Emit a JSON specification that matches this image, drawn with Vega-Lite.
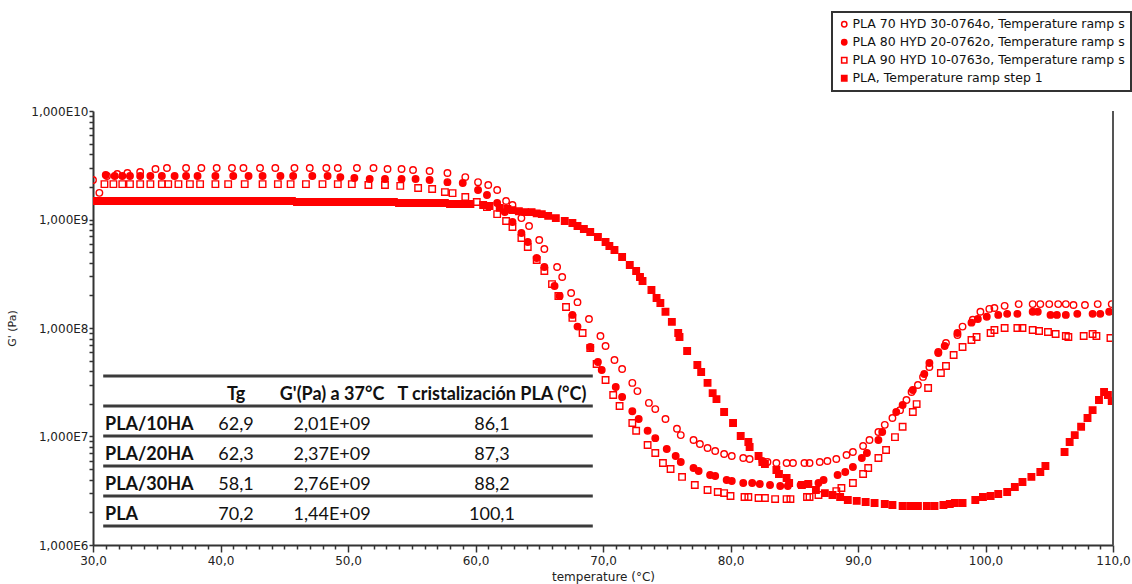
{
  "$schema": "https://vega.github.io/schema/vega-lite/v6.json",
  "width": 1020,
  "height": 434,
  "autosize": {"type": "none"},
  "padding": {"left": 93, "top": 111, "right": 19, "bottom": 39},
  "background": "white",
  "config": {"view": {"stroke": null}, "font": "DejaVu Sans", "axis": {"labelOverlap": false}},
  "datasets": {
    "series": [
      {"s": "A", "name": "PLA 70 HYD 30-0764o, Temperature ramp step 1"},
      {"s": "B", "name": "PLA 80 HYD 20-0762o, Temperature ramp step 1"},
      {"s": "C", "name": "PLA 90 HYD 10-0763o, Temperature ramp step 1"},
      {"s": "D", "name": "PLA, Temperature ramp step 1"}
    ],
    "table": [
      {"row": "h", "a": "", "Tg": "Tg", "G37": "G'(Pa) a 37°C", "Tc": "T cristalización PLA (°C)"},
      {"row": "PLA/10HA", "a": "PLA/10HA", "Tg": "62,9", "G37": "2,01E+09", "Tc": "86,1"},
      {"row": "PLA/20HA", "a": "PLA/20HA", "Tg": "62,3", "G37": "2,37E+09", "Tc": "87,3"},
      {"row": "PLA/30HA", "a": "PLA/30HA", "Tg": "58,1", "G37": "2,76E+09", "Tc": "88,2"},
      {"row": "PLA", "a": "PLA", "Tg": "70,2", "G37": "1,44E+09", "Tc": "100,1"}
    ],
    "pts": [
      {"s":"D","T":30.0,"G":1.48e9},{"s":"D","T":30.4,"G":1.48e9},{"s":"D","T":30.8,"G":1.48e9},{"s":"D","T":31.2,"G":1.48e9},{"s":"D","T":31.6,"G":1.48e9},{"s":"D","T":32.0,"G":1.48e9},{"s":"D","T":32.4,"G":1.48e9},{"s":"D","T":32.8,"G":1.48e9},{"s":"D","T":33.2,"G":1.48e9},{"s":"D","T":33.6,"G":1.48e9},{"s":"D","T":34.0,"G":1.48e9},{"s":"D","T":34.4,"G":1.48e9},{"s":"D","T":34.8,"G":1.48e9},{"s":"D","T":35.2,"G":1.48e9},{"s":"D","T":35.6,"G":1.48e9},{"s":"D","T":36.0,"G":1.48e9},{"s":"D","T":36.4,"G":1.48e9},{"s":"D","T":36.8,"G":1.48e9},{"s":"D","T":37.2,"G":1.48e9},{"s":"D","T":37.6,"G":1.48e9},{"s":"D","T":38.0,"G":1.48e9},{"s":"D","T":38.4,"G":1.48e9},{"s":"D","T":38.8,"G":1.48e9},{"s":"D","T":39.2,"G":1.48e9},{"s":"D","T":39.6,"G":1.48e9},{"s":"D","T":40.0,"G":1.48e9},{"s":"D","T":40.4,"G":1.48e9},{"s":"D","T":40.8,"G":1.48e9},{"s":"D","T":41.2,"G":1.48e9},{"s":"D","T":41.6,"G":1.48e9},{"s":"D","T":42.0,"G":1.48e9},{"s":"D","T":42.4,"G":1.48e9},{"s":"D","T":42.8,"G":1.48e9},{"s":"D","T":43.2,"G":1.48e9},{"s":"D","T":43.6,"G":1.48e9},{"s":"D","T":44.0,"G":1.48e9},{"s":"D","T":44.4,"G":1.48e9},{"s":"D","T":44.8,"G":1.48e9},{"s":"D","T":45.2,"G":1.48e9},{"s":"D","T":45.6,"G":1.48e9},
      {"s":"D","T":46.0,"G":1.45e9},{"s":"D","T":46.4,"G":1.45e9},{"s":"D","T":46.8,"G":1.45e9},{"s":"D","T":47.2,"G":1.45e9},{"s":"D","T":47.6,"G":1.45e9},{"s":"D","T":48.0,"G":1.45e9},{"s":"D","T":48.4,"G":1.45e9},{"s":"D","T":48.8,"G":1.45e9},{"s":"D","T":49.2,"G":1.45e9},{"s":"D","T":49.6,"G":1.45e9},{"s":"D","T":50.0,"G":1.45e9},{"s":"D","T":50.4,"G":1.45e9},{"s":"D","T":50.8,"G":1.45e9},{"s":"D","T":51.2,"G":1.45e9},{"s":"D","T":51.6,"G":1.45e9},{"s":"D","T":52.0,"G":1.45e9},{"s":"D","T":52.4,"G":1.45e9},{"s":"D","T":52.8,"G":1.45e9},{"s":"D","T":53.2,"G":1.45e9},{"s":"D","T":53.6,"G":1.45e9},
      {"s":"D","T":54.0,"G":1.42e9},{"s":"D","T":54.4,"G":1.42e9},{"s":"D","T":54.8,"G":1.42e9},{"s":"D","T":55.2,"G":1.42e9},{"s":"D","T":55.6,"G":1.42e9},{"s":"D","T":56.0,"G":1.42e9},{"s":"D","T":56.4,"G":1.42e9},{"s":"D","T":56.8,"G":1.42e9},{"s":"D","T":57.2,"G":1.42e9},{"s":"D","T":57.6,"G":1.42e9},
      {"s":"D","T":58.0,"G":1.39e9},{"s":"D","T":58.4,"G":1.39e9},{"s":"D","T":58.8,"G":1.39e9},{"s":"D","T":59.2,"G":1.39e9},{"s":"D","T":59.6,"G":1.39e9},
      {"s":"D","T":60.6,"G":1.36e9},{"s":"D","T":61.1,"G":1.33e9},{"s":"D","T":61.9,"G":1.28e9},{"s":"D","T":62.5,"G":1.25e9},{"s":"D","T":62.9,"G":1.22e9},{"s":"D","T":63.4,"G":1.19e9},{"s":"D","T":63.9,"G":1.17e9},{"s":"D","T":64.4,"G":1.17e9},{"s":"D","T":64.8,"G":1.14e9},{"s":"D","T":65.2,"G":1.12e9},{"s":"D","T":65.7,"G":1.08e9},{"s":"D","T":66.3,"G":1.03e9},{"s":"D","T":67.0,"G":9.68e8},{"s":"D","T":67.6,"G":9.28e8},{"s":"D","T":68.0,"G":8.71e8},{"s":"D","T":68.5,"G":8.18e8},{"s":"D","T":69.0,"G":7.67e8},{"s":"D","T":69.6,"G":6.90e8},{"s":"D","T":70.2,"G":6.20e8},{"s":"D","T":70.5,"G":5.70e8},{"s":"D","T":70.9,"G":5.24e8},{"s":"D","T":71.5,"G":4.51e8},{"s":"D","T":72.1,"G":3.81e8},{"s":"D","T":72.6,"G":3.35e8},{"s":"D","T":72.9,"G":2.95e8},{"s":"D","T":73.1,"G":2.71e8},{"s":"D","T":73.8,"G":2.24e8},{"s":"D","T":74.2,"G":1.89e8},{"s":"D","T":74.5,"G":1.70e8},{"s":"D","T":74.9,"G":1.41e8},{"s":"D","T":75.4,"G":1.14e8},{"s":"D","T":75.9,"G":9.00e7},{"s":"D","T":76.0,"G":8.26e7},{"s":"D","T":76.6,"G":6.14e7},{"s":"D","T":77.4,"G":4.56e7},{"s":"D","T":77.7,"G":3.93e7},{"s":"D","T":78.2,"G":3.12e7},{"s":"D","T":78.6,"G":2.51e7},{"s":"D","T":78.9,"G":2.21e7},{"s":"D","T":79.5,"G":1.68e7},{"s":"D","T":80.2,"G":1.33e7},{"s":"D","T":80.8,"G":1.01e7},{"s":"D","T":81.4,"G":8.90e6},{"s":"D","T":81.5,"G":8.00e6},{"s":"D","T":82.2,"G":6.61e6},{"s":"D","T":82.5,"G":5.82e6},{"s":"D","T":82.7,"G":5.58e6},{"s":"D","T":83.6,"G":4.91e6},{"s":"D","T":83.8,"G":4.51e6},{"s":"D","T":84.4,"G":4.15e6},{"s":"D","T":84.6,"G":3.73e6},{"s":"D","T":85.6,"G":3.57e6},{"s":"D","T":86.1,"G":3.65e6},{"s":"D","T":86.7,"G":3.21e6},{"s":"D","T":87.4,"G":3.01e6},{"s":"D","T":88.0,"G":2.89e6},{"s":"D","T":88.6,"G":2.77e6},{"s":"D","T":89.2,"G":2.60e6},{"s":"D","T":89.9,"G":2.55e6},{"s":"D","T":90.6,"G":2.49e6},{"s":"D","T":91.3,"G":2.44e6},{"s":"D","T":92.1,"G":2.39e6},{"s":"D","T":92.7,"G":2.34e6},{"s":"D","T":93.5,"G":2.29e6},{"s":"D","T":94.1,"G":2.29e6},{"s":"D","T":94.7,"G":2.29e6},{"s":"D","T":95.4,"G":2.29e6},{"s":"D","T":96.0,"G":2.29e6},{"s":"D","T":96.7,"G":2.34e6},{"s":"D","T":97.2,"G":2.39e6},{"s":"D","T":97.6,"G":2.44e6},{"s":"D","T":98.2,"G":2.44e6},{"s":"D","T":99.2,"G":2.60e6},{"s":"D","T":99.8,"G":2.77e6},{"s":"D","T":100.4,"G":2.83e6},{"s":"D","T":101.0,"G":2.95e6},{"s":"D","T":101.7,"G":3.08e6},{"s":"D","T":102.3,"G":3.42e6},{"s":"D","T":102.9,"G":3.81e6},{"s":"D","T":103.6,"G":4.24e6},{"s":"D","T":104.3,"G":4.71e6},{"s":"D","T":104.7,"G":5.35e6},{"s":"D","T":106.2,"G":7.20e6},{"s":"D","T":106.6,"G":8.90e6},{"s":"D","T":107.0,"G":1.03e7},{"s":"D","T":107.5,"G":1.23e7},{"s":"D","T":108.0,"G":1.48e7},{"s":"D","T":108.4,"G":1.75e7},{"s":"D","T":108.9,"G":2.17e7},{"s":"D","T":109.3,"G":2.57e7},{"s":"D","T":109.6,"G":2.41e7},{"s":"D","T":109.9,"G":2.12e7},

      {"s":"C","T":30.9,"G":2.12e9},{"s":"C","T":31.6,"G":2.12e9},{"s":"C","T":32.3,"G":2.12e9},{"s":"C","T":32.9,"G":2.12e9},{"s":"C","T":33.7,"G":2.12e9},{"s":"C","T":34.5,"G":2.12e9},{"s":"C","T":35.4,"G":2.12e9},{"s":"C","T":35.9,"G":2.12e9},{"s":"C","T":36.7,"G":2.12e9},{"s":"C","T":37.6,"G":2.12e9},{"s":"C","T":38.4,"G":2.12e9},{"s":"C","T":39.6,"G":2.12e9},{"s":"C","T":40.6,"G":2.12e9},{"s":"C","T":41.9,"G":2.12e9},{"s":"C","T":43.3,"G":2.12e9},{"s":"C","T":44.5,"G":2.12e9},{"s":"C","T":45.5,"G":2.12e9},{"s":"C","T":46.7,"G":2.12e9},{"s":"C","T":48.0,"G":2.12e9},{"s":"C","T":49.2,"G":2.12e9},{"s":"C","T":50.3,"G":2.12e9},{"s":"C","T":51.6,"G":2.08e9},{"s":"C","T":52.9,"G":2.08e9},{"s":"C","T":54.1,"G":2.04e9},{"s":"C","T":55.5,"G":1.95e9},{"s":"C","T":56.6,"G":1.91e9},{"s":"C","T":57.6,"G":1.79e9},{"s":"C","T":58.2,"G":1.75e9},{"s":"C","T":59.2,"G":1.61e9},{"s":"C","T":60.1,"G":1.45e9},{"s":"C","T":60.9,"G":1.30e9},{"s":"C","T":61.7,"G":1.12e9},{"s":"C","T":62.4,"G":9.68e8},{"s":"C","T":62.9,"G":8.53e8},{"s":"C","T":63.6,"G":6.76e8},{"s":"C","T":64.1,"G":5.58e8},{"s":"C","T":64.8,"G":4.23e8},{"s":"C","T":65.4,"G":3.35e8},{"s":"C","T":66.0,"G":2.54e8},{"s":"C","T":66.5,"G":1.97e8},{"s":"C","T":67.1,"G":1.56e8},{"s":"C","T":67.6,"G":1.24e8},{"s":"C","T":68.4,"G":9.00e7},{"s":"C","T":69.0,"G":6.54e7},{"s":"C","T":69.5,"G":4.66e7},{"s":"C","T":70.2,"G":3.32e7},{"s":"C","T":70.8,"G":2.41e7},{"s":"C","T":71.3,"G":1.91e7},{"s":"C","T":72.3,"G":1.33e7},{"s":"C","T":72.6,"G":1.13e7},{"s":"C","T":73.5,"G":8.35e6},{"s":"C","T":74.1,"G":7.05e6},{"s":"C","T":74.7,"G":5.70e6},{"s":"C","T":75.3,"G":5.02e6},{"s":"C","T":76.2,"G":4.24e6},{"s":"C","T":77.2,"G":3.57e6},{"s":"C","T":78.2,"G":3.21e6},{"s":"C","T":79.0,"G":3.08e6},{"s":"C","T":79.5,"G":3.01e6},{"s":"C","T":80.0,"G":2.83e6},{"s":"C","T":81.1,"G":2.77e6},{"s":"C","T":81.4,"G":2.77e6},{"s":"C","T":82.2,"G":2.71e6},{"s":"C","T":82.7,"G":2.71e6},{"s":"C","T":83.5,"G":2.65e6},{"s":"C","T":84.4,"G":2.65e6},{"s":"C","T":84.7,"G":2.65e6},{"s":"C","T":86.0,"G":2.77e6},{"s":"C","T":86.2,"G":2.77e6},{"s":"C","T":86.9,"G":2.89e6},{"s":"C","T":88.3,"G":3.14e6},{"s":"C","T":88.7,"G":3.35e6},{"s":"C","T":89.6,"G":3.73e6},{"s":"C","T":90.4,"G":4.51e6},{"s":"C","T":90.8,"G":5.12e6},{"s":"C","T":91.6,"G":6.33e6},{"s":"C","T":92.2,"G":7.51e6},{"s":"C","T":92.9,"G":9.87e6},{"s":"C","T":93.5,"G":1.23e7},{"s":"C","T":94.3,"G":1.68e7},{"s":"C","T":94.6,"G":1.99e7},{"s":"C","T":95.5,"G":2.80e7},{"s":"C","T":96.5,"G":3.85e7},{"s":"C","T":96.9,"G":4.46e7},{"s":"C","T":97.5,"G":5.64e7},{"s":"C","T":98.2,"G":6.68e7},{"s":"C","T":98.9,"G":7.75e7},{"s":"C","T":99.3,"G":8.26e7},{"s":"C","T":100.4,"G":9.00e7},{"s":"C","T":100.7,"G":9.59e7},{"s":"C","T":101.5,"G":1.00e8},{"s":"C","T":102.5,"G":1.00e8},{"s":"C","T":102.9,"G":1.00e8},{"s":"C","T":103.7,"G":9.59e7},{"s":"C","T":104.2,"G":9.39e7},{"s":"C","T":104.9,"G":9.19e7},{"s":"C","T":105.5,"G":8.81e7},{"s":"C","T":106.3,"G":8.44e7},{"s":"C","T":106.5,"G":8.26e7},{"s":"C","T":107.7,"G":8.44e7},{"s":"C","T":108.4,"G":8.81e7},{"s":"C","T":108.7,"G":8.44e7},{"s":"C","T":109.8,"G":8.09e7},

      {"s":"B","T":31.0,"G":2.57e9},{"s":"B","T":31.7,"G":2.52e9},{"s":"B","T":32.3,"G":2.52e9},{"s":"B","T":32.9,"G":2.52e9},{"s":"B","T":33.7,"G":2.52e9},{"s":"B","T":34.5,"G":2.52e9},{"s":"B","T":35.4,"G":2.52e9},{"s":"B","T":36.4,"G":2.52e9},{"s":"B","T":37.3,"G":2.52e9},{"s":"B","T":38.2,"G":2.52e9},{"s":"B","T":39.6,"G":2.52e9},{"s":"B","T":41.0,"G":2.52e9},{"s":"B","T":42.2,"G":2.52e9},{"s":"B","T":43.3,"G":2.52e9},{"s":"B","T":44.7,"G":2.52e9},{"s":"B","T":45.7,"G":2.52e9},{"s":"B","T":47.2,"G":2.52e9},{"s":"B","T":48.4,"G":2.52e9},{"s":"B","T":49.4,"G":2.46e9},{"s":"B","T":50.5,"G":2.41e9},{"s":"B","T":51.7,"G":2.36e9},{"s":"B","T":52.9,"G":2.36e9},{"s":"B","T":54.2,"G":2.36e9},{"s":"B","T":55.3,"G":2.36e9},{"s":"B","T":56.4,"G":2.31e9},{"s":"B","T":57.8,"G":2.21e9},{"s":"B","T":59.0,"G":2.17e9},{"s":"B","T":60.2,"G":1.87e9},{"s":"B","T":60.9,"G":1.68e9},{"s":"B","T":61.7,"G":1.42e9},{"s":"B","T":62.3,"G":1.17e9},{"s":"B","T":62.9,"G":9.48e8},{"s":"B","T":63.6,"G":7.51e8},{"s":"B","T":64.1,"G":6.20e8},{"s":"B","T":64.8,"G":4.42e8},{"s":"B","T":65.4,"G":3.65e8},{"s":"B","T":66.2,"G":2.44e8},{"s":"B","T":66.6,"G":1.97e8},{"s":"B","T":67.6,"G":1.32e8},{"s":"B","T":68.0,"G":1.03e8},{"s":"B","T":69.0,"G":6.68e7},{"s":"B","T":69.6,"G":4.86e7},{"s":"B","T":69.9,"G":4.10e7},{"s":"B","T":71.0,"G":2.86e7},{"s":"B","T":71.5,"G":2.31e7},{"s":"B","T":72.3,"G":1.71e7},{"s":"B","T":72.8,"G":1.45e7},{"s":"B","T":73.5,"G":1.13e7},{"s":"B","T":74.1,"G":9.66e6},{"s":"B","T":75.0,"G":7.67e6},{"s":"B","T":75.7,"G":6.61e6},{"s":"B","T":76.1,"G":5.82e6},{"s":"B","T":77.1,"G":5.12e6},{"s":"B","T":77.5,"G":4.81e6},{"s":"B","T":78.4,"G":4.42e6},{"s":"B","T":78.8,"G":4.33e6},{"s":"B","T":79.7,"G":3.97e6},{"s":"B","T":80.1,"G":3.89e6},{"s":"B","T":81.0,"G":3.73e6},{"s":"B","T":81.7,"G":3.73e6},{"s":"B","T":82.3,"G":3.65e6},{"s":"B","T":83.1,"G":3.57e6},{"s":"B","T":83.9,"G":3.50e6},{"s":"B","T":84.5,"G":3.50e6},{"s":"B","T":85.5,"G":3.57e6},{"s":"B","T":86.1,"G":3.65e6},{"s":"B","T":86.9,"G":3.73e6},{"s":"B","T":87.3,"G":3.97e6},{"s":"B","T":88.4,"G":4.42e6},{"s":"B","T":89.0,"G":4.71e6},{"s":"B","T":89.6,"G":5.23e6},{"s":"B","T":90.3,"G":6.33e6},{"s":"B","T":90.7,"G":7.05e6},{"s":"B","T":91.6,"G":9.29e6},{"s":"B","T":91.9,"G":1.10e7},{"s":"B","T":93.0,"G":1.68e7},{"s":"B","T":93.5,"G":1.95e7},{"s":"B","T":94.3,"G":2.68e7},{"s":"B","T":95.2,"G":3.77e7},{"s":"B","T":95.6,"G":4.76e7},{"s":"B","T":96.3,"G":5.88e7},{"s":"B","T":96.8,"G":6.82e7},{"s":"B","T":97.8,"G":9.00e7},{"s":"B","T":98.9,"G":1.12e8},{"s":"B","T":99.4,"G":1.21e8},{"s":"B","T":100.1,"G":1.27e8},{"s":"B","T":101.0,"G":1.32e8},{"s":"B","T":101.7,"G":1.35e8},{"s":"B","T":102.5,"G":1.35e8},{"s":"B","T":103.7,"G":1.41e8},{"s":"B","T":104.1,"G":1.41e8},{"s":"B","T":105.1,"G":1.32e8},{"s":"B","T":105.6,"G":1.32e8},{"s":"B","T":106.3,"G":1.32e8},{"s":"B","T":107.2,"G":1.35e8},{"s":"B","T":108.4,"G":1.35e8},{"s":"B","T":109.0,"G":1.35e8},{"s":"B","T":109.7,"G":1.41e8},

      {"s":"A","T":30.0,"G":2.31e9},{"s":"A","T":30.5,"G":1.76e9},{"s":"A","T":31.1,"G":2.52e9},{"s":"A","T":31.9,"G":2.63e9},{"s":"A","T":32.7,"G":2.68e9},{"s":"A","T":33.7,"G":2.74e9},{"s":"A","T":34.9,"G":2.92e9},{"s":"A","T":35.8,"G":2.98e9},{"s":"A","T":37.3,"G":2.98e9},{"s":"A","T":38.5,"G":2.98e9},{"s":"A","T":39.7,"G":2.98e9},{"s":"A","T":40.9,"G":2.98e9},{"s":"A","T":41.8,"G":2.98e9},{"s":"A","T":43.1,"G":2.98e9},{"s":"A","T":44.3,"G":2.98e9},{"s":"A","T":45.8,"G":2.98e9},{"s":"A","T":47.0,"G":2.98e9},{"s":"A","T":48.3,"G":2.98e9},{"s":"A","T":49.2,"G":2.98e9},{"s":"A","T":50.7,"G":2.98e9},{"s":"A","T":52.0,"G":2.98e9},{"s":"A","T":53.1,"G":2.92e9},{"s":"A","T":54.2,"G":2.92e9},{"s":"A","T":55.1,"G":2.86e9},{"s":"A","T":56.4,"G":2.80e9},{"s":"A","T":57.8,"G":2.68e9},{"s":"A","T":59.2,"G":2.46e9},{"s":"A","T":60.2,"G":2.21e9},{"s":"A","T":61.0,"G":2.08e9},{"s":"A","T":61.7,"G":1.87e9},{"s":"A","T":62.4,"G":1.48e9},{"s":"A","T":62.9,"G":1.36e9},{"s":"A","T":63.6,"G":1.03e9},{"s":"A","T":64.2,"G":8.71e8},{"s":"A","T":65.0,"G":6.47e8},{"s":"A","T":65.4,"G":5.35e8},{"s":"A","T":66.4,"G":3.65e8},{"s":"A","T":66.8,"G":2.95e8},{"s":"A","T":67.5,"G":2.10e8},{"s":"A","T":68.0,"G":1.73e8},{"s":"A","T":68.9,"G":1.21e8},{"s":"A","T":69.8,"G":8.44e7},{"s":"A","T":70.2,"G":6.82e7},{"s":"A","T":70.9,"G":5.07e7},{"s":"A","T":71.5,"G":4.19e7},{"s":"A","T":72.3,"G":3.12e7},{"s":"A","T":72.7,"G":2.62e7},{"s":"A","T":73.6,"G":2.04e7},{"s":"A","T":74.1,"G":1.79e7},{"s":"A","T":74.9,"G":1.45e7},{"s":"A","T":75.8,"G":1.18e7},{"s":"A","T":76.1,"G":1.03e7},{"s":"A","T":77.1,"G":9.29e6},{"s":"A","T":77.6,"G":8.53e6},{"s":"A","T":78.2,"G":7.83e6},{"s":"A","T":78.8,"G":7.35e6},{"s":"A","T":79.5,"G":6.90e6},{"s":"A","T":80.1,"G":6.61e6},{"s":"A","T":81.0,"G":6.33e6},{"s":"A","T":81.5,"G":6.20e6},{"s":"A","T":82.5,"G":5.94e6},{"s":"A","T":82.9,"G":5.82e6},{"s":"A","T":83.6,"G":5.70e6},{"s":"A","T":84.4,"G":5.70e6},{"s":"A","T":84.9,"G":5.70e6},{"s":"A","T":85.8,"G":5.70e6},{"s":"A","T":86.2,"G":5.70e6},{"s":"A","T":87.0,"G":5.82e6},{"s":"A","T":87.6,"G":5.94e6},{"s":"A","T":88.3,"G":6.20e6},{"s":"A","T":89.1,"G":6.75e6},{"s":"A","T":89.6,"G":7.20e6},{"s":"A","T":90.4,"G":8.17e6},{"s":"A","T":90.9,"G":9.29e6},{"s":"A","T":91.6,"G":1.10e7},{"s":"A","T":92.1,"G":1.28e7},{"s":"A","T":92.7,"G":1.48e7},{"s":"A","T":93.3,"G":1.75e7},{"s":"A","T":93.8,"G":2.17e7},{"s":"A","T":94.2,"G":2.57e7},{"s":"A","T":94.7,"G":2.98e7},{"s":"A","T":95.1,"G":3.54e7},{"s":"A","T":95.6,"G":4.37e7},{"s":"A","T":96.3,"G":6.01e7},{"s":"A","T":96.9,"G":7.27e7},{"s":"A","T":97.8,"G":8.62e7},{"s":"A","T":98.2,"G":1.03e8},{"s":"A","T":99.0,"G":1.19e8},{"s":"A","T":99.6,"G":1.41e8},{"s":"A","T":100.3,"G":1.50e8},{"s":"A","T":100.7,"G":1.53e8},{"s":"A","T":101.5,"G":1.60e8},{"s":"A","T":102.6,"G":1.66e8},{"s":"A","T":103.7,"G":1.66e8},{"s":"A","T":104.3,"G":1.66e8},{"s":"A","T":105.0,"G":1.66e8},{"s":"A","T":105.7,"G":1.66e8},{"s":"A","T":106.3,"G":1.66e8},{"s":"A","T":106.9,"G":1.63e8},{"s":"A","T":107.8,"G":1.63e8},{"s":"A","T":108.8,"G":1.66e8},{"s":"A","T":109.9,"G":1.66e8}
    ]
  },
  "layer": [
    {
      "data": {"name": "pts"},
      "transform": [{"lookup": "s", "from": {"data": {"name": "series"}, "key": "s", "fields": ["name"]}}],
      "mark": {"type": "point", "stroke": "#ff0000", "strokeWidth": 1.4, "size": 42, "opacity": 1, "clip": true},
      "encoding": {
        "x": {
          "field": "T", "type": "quantitative", "title": "temperature (°C)",
          "scale": {"domain": [30, 110], "nice": false, "zero": false},
          "axis": {
            "values": [30,31,32,33,34,35,36,37,38,39,40,41,42,43,44,45,46,47,48,49,50,51,52,53,54,55,56,57,58,59,60,61,62,63,64,65,66,67,68,69,70,71,72,73,74,75,76,77,78,79,80,81,82,83,84,85,86,87,88,89,90,91,92,93,94,95,96,97,98,99,100,101,102,103,104,105,106,107,108,109,110],
            "tickCount": 200,
            "labelExpr": "datum.value % 10 === 0 ? replace(format(datum.value, '.1f'), '.', ',') : ''",
            "tickSize": {"condition": {"test": "datum.value % 10 === 0", "value": 7}, "value": 4},
            "labelPadding": 3, "labelFont": "DejaVu Sans", "labelFontSize": 12, "labelColor": "#222",
            "labelOverlap": false, "labelFlush": false, "labelBound": false,
            "domainColor": "#333", "domainWidth": 2, "tickColor": "#333", "tickWidth": 1.5, "grid": false,
            "titleFont": "DejaVu Sans", "titleFontSize": 12, "titleFontWeight": "normal", "titleColor": "#222", "titlePadding": 5
          }
        },
        "y": {
          "field": "G", "type": "quantitative", "title": "G' (Pa)",
          "scale": {"type": "log", "domain": [1000000, 10000000000], "nice": false},
          "axis": {
            "values": [1e6,2e6,3e6,4e6,5e6,6e6,7e6,8e6,9e6,1e7,2e7,3e7,4e7,5e7,6e7,7e7,8e7,9e7,1e8,2e8,3e8,4e8,5e8,6e8,7e8,8e8,9e8,1e9,2e9,3e9,4e9,5e9,6e9,7e9,8e9,9e9,1e10],
            "tickCount": 200,
            "labelExpr": "abs(log(datum.value)/LN10 - round(log(datum.value)/LN10)) < 0.001 ? '1,000E' + round(log(datum.value)/LN10) : ''",
            "tickSize": 4, "labelPadding": 1, "labelFont": "DejaVu Sans", "labelFontSize": 12, "labelColor": "#222",
            "labelOverlap": false, "labelFlush": false,
            "domainColor": "#333", "domainWidth": 2, "tickColor": "#333", "tickWidth": 1.5, "grid": false,
            "titleFont": "DejaVu Sans", "titleFontSize": 11, "titleFontWeight": "normal", "titleColor": "#222", "titlePadding": 13
          }
        },
        "shape": {
          "field": "name", "type": "nominal",
          "scale": {"domain": ["PLA 70 HYD 30-0764o, Temperature ramp step 1", "PLA 80 HYD 20-0762o, Temperature ramp step 1", "PLA 90 HYD 10-0763o, Temperature ramp step 1", "PLA, Temperature ramp step 1"], "range": ["circle", "circle", "square", "square"]},
          "legend": {
            "orient": "none", "legendX": 739, "legendY": -99, "title": null,
            "labelFont": "DejaVu Sans", "labelFontSize": 12.5, "labelColor": "#111", "labelLimit": 274,
            "symbolSize": 28, "symbolStrokeWidth": 1.5, "symbolStrokeColor": "#ff0000",
            "padding": 6, "rowPadding": 5, "labelOffset": 2,
            "strokeColor": "#333", "fillColor": "white",
            "encoding": {
              "labels": {"ellipsis": {"value": "\u200b"}},
              "legend": {"strokeWidth": {"value": 2}},
              "symbols": {"stroke": {"value": "#ff0000"}, "strokeWidth": {"value": 1.5}}
            }
          }
        },
        "fill": {
          "field": "name", "type": "nominal",
          "scale": {"domain": ["PLA 70 HYD 30-0764o, Temperature ramp step 1", "PLA 80 HYD 20-0762o, Temperature ramp step 1", "PLA 90 HYD 10-0763o, Temperature ramp step 1", "PLA, Temperature ramp step 1"], "range": ["transparent", "#ff0000", "transparent", "#ff0000"]},
          "legend": {
            "orient": "none", "legendX": 739, "legendY": -99, "title": null,
            "labelFont": "DejaVu Sans", "labelFontSize": 12.5, "labelColor": "#111", "labelLimit": 274,
            "symbolSize": 28, "symbolStrokeWidth": 1.5, "symbolStrokeColor": "#ff0000",
            "padding": 6, "rowPadding": 5, "labelOffset": 2,
            "strokeColor": "#333", "fillColor": "white",
            "encoding": {
              "labels": {"ellipsis": {"value": "\u200b"}},
              "legend": {"strokeWidth": {"value": 2}},
              "symbols": {"stroke": {"value": "#ff0000"}, "strokeWidth": {"value": 1.5}}
            }
          }
        }
      }
    },
    {
      "data": {"values": [{}]},
      "mark": {"type": "rule", "color": "#555", "strokeWidth": 2},
      "encoding": {"x": {"datum": 110, "type": "quantitative"}}
    },
    {
      "data": {"name": "table"},
      "encoding": {
        "y": {
          "field": "row", "type": "nominal", "axis": null,
          "scale": {"type": "band", "domain": ["h", "PLA/10HA", "PLA/20HA", "PLA/30HA", "PLA"], "range": [265, 415], "paddingInner": 0, "paddingOuter": 0}
        }
      },
      "layer": [
        {
          "mark": {"type": "rule", "color": "#3b3b3b", "strokeWidth": 3},
          "encoding": {"x": {"datum": 30.8, "type": "quantitative"}, "x2": {"datum": 69.2}, "y": {"field": "row", "type": "nominal", "bandPosition": 1, "axis": null}}
        },
        {
          "transform": [{"filter": "datum.row === 'h'"}],
          "mark": {"type": "rule", "color": "#3b3b3b", "strokeWidth": 3},
          "encoding": {"x": {"datum": 30.8, "type": "quantitative"}, "x2": {"datum": 69.2}, "y": {"field": "row", "type": "nominal", "bandPosition": 0, "axis": null}}
        },
        {
          "mark": {"type": "text", "align": "left", "baseline": "middle", "dy": 3.5, "font": "Lato", "fontSize": 18, "fontWeight": "bold", "color": "#111"},
          "encoding": {"x": {"datum": 30.94, "type": "quantitative"}, "text": {"field": "a"}}
        },
        {
          "transform": [{"filter": "datum.row === 'h'"}],
          "mark": {"type": "text", "align": "center", "baseline": "middle", "dy": 3.5, "font": "Lato", "fontSize": 18, "fontWeight": "bold", "color": "#111"},
          "encoding": {"x": {"datum": 41.22, "type": "quantitative"}, "text": {"field": "Tg"}}
        },
        {
          "transform": [{"filter": "datum.row === 'h'"}],
          "mark": {"type": "text", "align": "center", "baseline": "middle", "dy": 3.5, "font": "Lato", "fontSize": 18, "fontWeight": "bold", "color": "#111"},
          "encoding": {"x": {"datum": 48.75, "type": "quantitative"}, "text": {"field": "G37"}}
        },
        {
          "transform": [{"filter": "datum.row === 'h'"}],
          "mark": {"type": "text", "align": "center", "baseline": "middle", "dy": 3.5, "font": "Lato", "fontSize": 18, "fontWeight": "bold", "color": "#111"},
          "encoding": {"x": {"datum": 61.29, "type": "quantitative"}, "text": {"field": "Tc"}}
        },
        {
          "transform": [{"filter": "datum.row !== 'h'"}],
          "mark": {"type": "text", "align": "center", "baseline": "middle", "dy": 3.5, "font": "Lato", "fontSize": 18, "color": "#111"},
          "encoding": {"x": {"datum": 41.22, "type": "quantitative"}, "text": {"field": "Tg"}}
        },
        {
          "transform": [{"filter": "datum.row !== 'h'"}],
          "mark": {"type": "text", "align": "center", "baseline": "middle", "dy": 3.5, "font": "Lato", "fontSize": 18, "color": "#111"},
          "encoding": {"x": {"datum": 48.75, "type": "quantitative"}, "text": {"field": "G37"}}
        },
        {
          "transform": [{"filter": "datum.row !== 'h'"}],
          "mark": {"type": "text", "align": "center", "baseline": "middle", "dy": 3.5, "font": "Lato", "fontSize": 18, "color": "#111"},
          "encoding": {"x": {"datum": 61.29, "type": "quantitative"}, "text": {"field": "Tc"}}
        }
      ]
    }
  ],
  "resolve": {"scale": {"y": "independent"}}
}
